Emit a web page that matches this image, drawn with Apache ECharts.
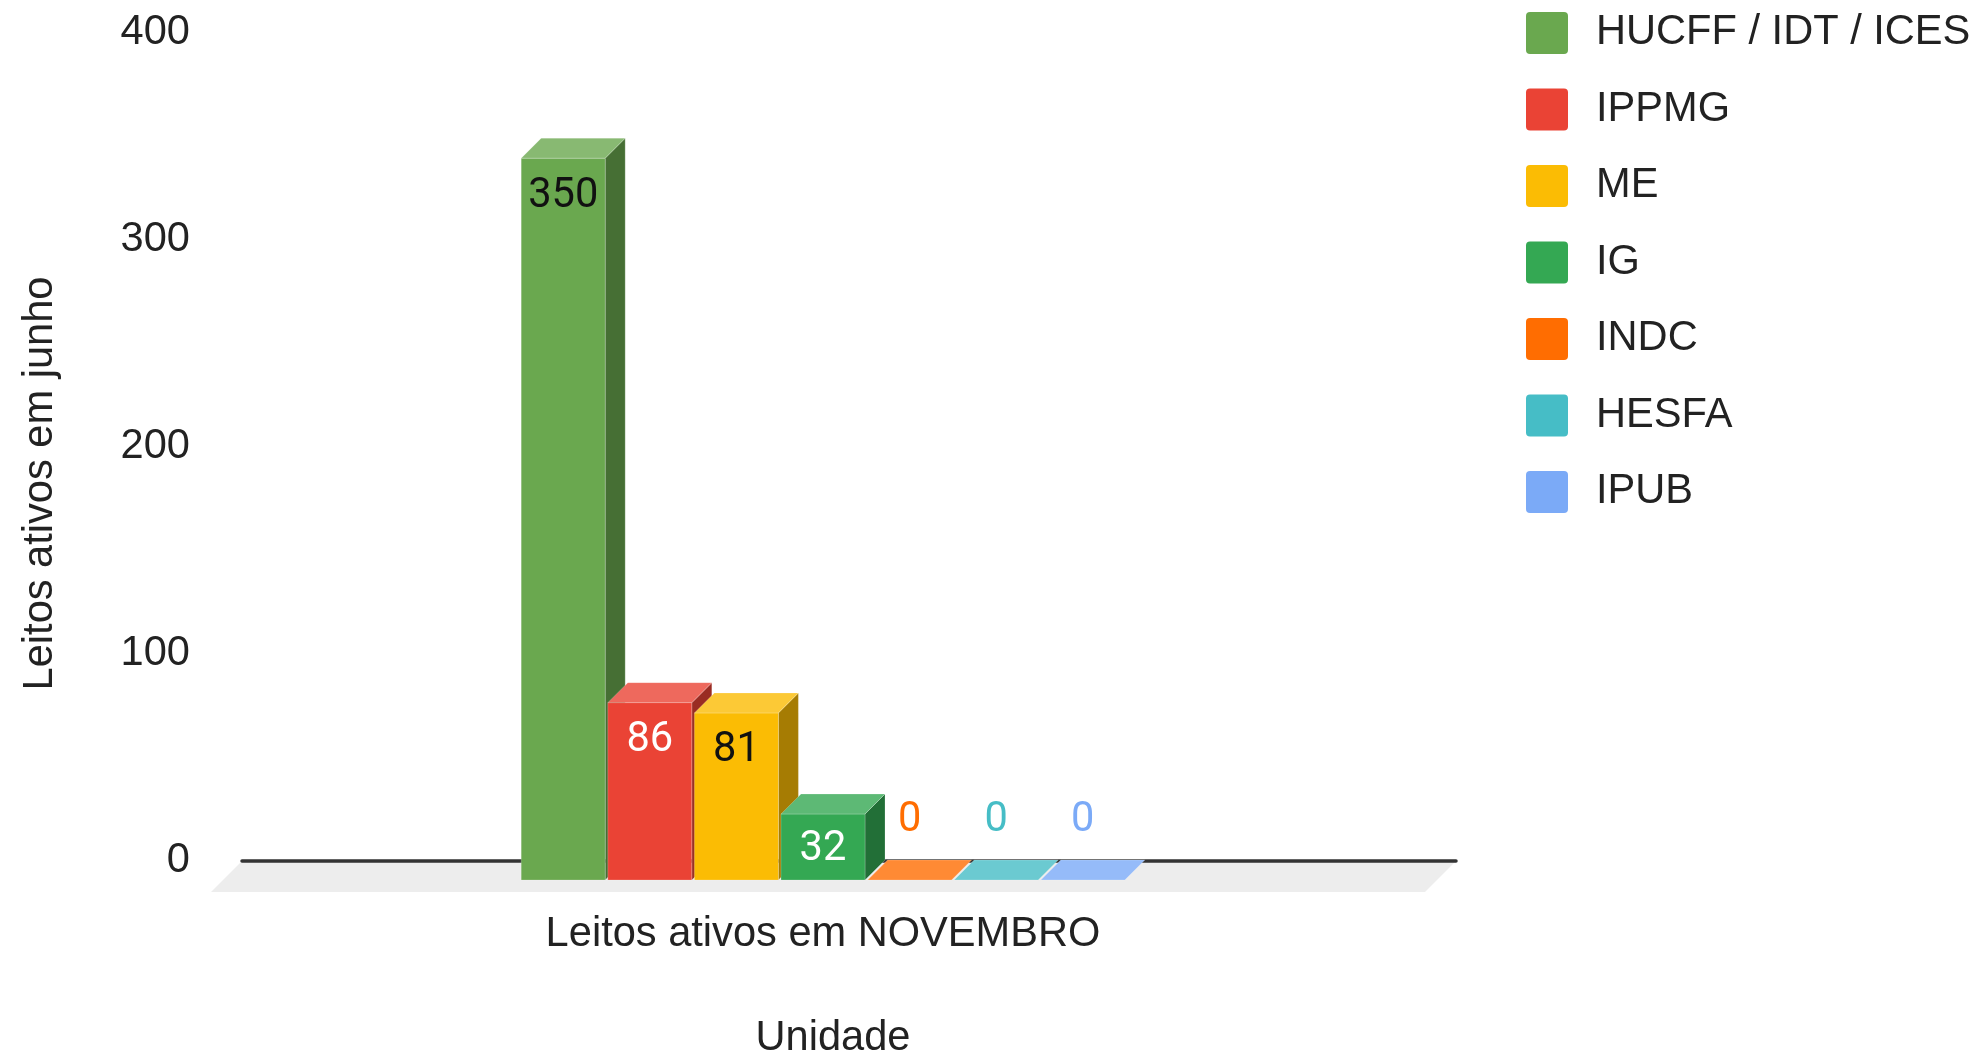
<!DOCTYPE html>
<html>
<head>
<meta charset="utf-8">
<title>Leitos ativos</title>
<style>
html, body { margin: 0; padding: 0; background: #fff; }
#main { width: 1978px; height: 1054px; }
</style>
<script src="https://cdn.jsdelivr.net/npm/echarts@6/dist/echarts.min.js"></script>
</head>
<body>
<div id="main"></div>
<script>
var categories = ['Leitos ativos em NOVEMBRO'];
var unidades = ['HUCFF / IDT / ICES', 'IPPMG', 'ME', 'IG', 'INDC', 'HESFA', 'IPUB'];
var leitos = [350, 86, 81, 32, 0, 0, 0];
var cores = ['#6aa84f', '#ea4335', '#fbbc04', '#34a853', '#ff6d01', '#46bdc6', '#7baaf7'];
var coresRotulo = ['#111111', '#ffffff', '#111111', '#ffffff', '#ff6d01', '#46bdc6', '#7baaf7'];

var FONTE = '"Liberation Sans", Arial, sans-serif';
var TAM_FONTE = 41.6;
var COR_TEXTO = '#222222';
var LARGURA = 84; // largura da frente da barra
var PASSO = 86.6; // distancia entre barras
var PROF = 20; // profundidade da barra
var PROF_PISO = 31; // profundidade do piso

// mistura a cor com branco (topo) ou escurece (lateral)
function clarear(hex, t) {
    var n = parseInt(hex.slice(1), 16);
    var c = [n >> 16, (n >> 8) & 255, n & 255].map(function (v) {
        return Math.round(v + (255 - v) * t);
    });
    return 'rgb(' + c.join(',') + ')';
}
function escurecer(hex, t) {
    var n = parseInt(hex.slice(1), 16);
    var c = [n >> 16, (n >> 8) & 255, n & 255].map(function (v) {
        return Math.round(v * t);
    });
    return 'rgb(' + c.join(',') + ')';
}

function poly(pontos, cor) {
    return {
        type: 'polygon',
        shape: { points: pontos },
        style: { fill: cor, stroke: 'rgba(255,255,255,0.35)', lineWidth: 0.6 }
    };
}

function barra3d(i) {
    return function (params, api) {
        var base = api.coord([0, 0]);
        var topo = api.coord([0, api.value(1)]);
        var x0 = base[0] + (i - 3) * PASSO - LARGURA / 2;
        var x1 = x0 + LARGURA;
        var yb = base[1];
        var yt = topo[1];
        var h = yb - yt;
        var filhos = [];
        if (h > 0) {
            filhos.push(poly([[x1, yt], [x1 + PROF, yt - PROF], [x1 + PROF, yb - PROF], [x1, yb]], escurecer(cores[i], 0.66)));
            filhos.push(poly([[x0, yt], [x1, yt], [x1, yb], [x0, yb]], cores[i]));
        }
        filhos.push(poly([[x0, yt], [x1, yt], [x1 + PROF, yt - PROF], [x0 + PROF, yt - PROF]], clarear(cores[i], 0.2)));
        // rotulo: dentro da barra, ou acima quando o valor e zero
        var yLabel = h > 0 ? yt + Math.min(35, h / 2) + 3 : yt - 59;
        filhos.push({
            type: 'text',
            z2: 10,
            style: {
                text: String(api.value(1)),
                x: (x0 + x1) / 2,
                y: yLabel,
                fill: coresRotulo[i],
                font: TAM_FONTE + 'px Roboto, sans-serif',
                align: 'center',
                verticalAlign: 'middle'
            }
        });
        return { type: 'group', children: filhos };
    };
}

function piso(params) {
    var g = params.coordSys;
    var y = g.y + g.height;
    return {
        type: 'polygon',
        shape: {
            points: [
                [g.x, y],
                [g.x + g.width, y],
                [g.x + g.width - PROF_PISO, y + PROF_PISO],
                [g.x - PROF_PISO, y + PROF_PISO]
            ]
        },
        style: { fill: '#ededed' }
    };
}

var series = [{
    name: 'piso',
    type: 'custom',
    xAxisIndex: 0,
    yAxisIndex: 0,
    silent: true,
    z: 0,
    renderItem: piso,
    data: [[0, 0]]
}];
unidades.forEach(function (nome, i) {
    series.push({
        name: nome,
        type: 'custom',
        xAxisIndex: 1,
        yAxisIndex: 1,
        z: 3,
        itemStyle: { color: cores[i] },
        encode: { x: 0, y: 1 },
        renderItem: barra3d(i),
        data: [[0, leitos[i]]]
    });
});

var myChart = echarts.init(document.getElementById('main'));
var option = {
    animation: false,
    backgroundColor: '#ffffff',
    tooltip: { show: false },
    legend: {
        orient: 'vertical',
        left: 1526,
        top: 12,
        padding: 0,
        data: unidades,
        selectedMode: false,
        itemWidth: 42,
        itemHeight: 42,
        itemGap: 34.5,
        icon: 'path://M4 0H38A4 4 0 0 1 42 4V38A4 4 0 0 1 38 42H4A4 4 0 0 1 0 38V4A4 4 0 0 1 4 0Z',
        textStyle: {
            fontFamily: FONTE,
            fontSize: TAM_FONTE,
            color: COR_TEXTO,
            padding: [4, 0, 0, 23]
        }
    },
    grid: [
        // plano do fundo: escala de valores e linha do zero
        { left: 242, width: 1214, top: 33, height: 828, outerBoundsMode: 'none' },
        // plano da frente: barras
        { left: 216, width: 1214, top: 55, height: 825, outerBoundsMode: 'none' }
    ],
    xAxis: [
        {
            gridIndex: 0,
            type: 'category',
            data: categories,
            z: 1,
            axisLine: { show: true, lineStyle: { color: '#333333', width: 3.5 } },
            axisTick: { show: false },
            axisLabel: { show: false }
        },
        {
            gridIndex: 1,
            type: 'category',
            data: categories,
            axisLine: { show: false },
            axisTick: { show: false },
            axisLabel: {
                margin: 34,
                fontFamily: FONTE,
                fontSize: TAM_FONTE,
                color: COR_TEXTO
            },
            name: 'Unidade',
            nameLocation: 'middle',
            nameGap: 138,
            nameTextStyle: {
                fontFamily: FONTE,
                fontSize: TAM_FONTE,
                color: COR_TEXTO,
                padding: [0, 0, 0, 20]
            }
        }
    ],
    yAxis: [
        {
            gridIndex: 0,
            type: 'value',
            min: 0,
            max: 400,
            interval: 100,
            axisLine: { show: false },
            axisTick: { show: false },
            splitLine: { show: false },
            axisLabel: {
                margin: 52,
                fontFamily: FONTE,
                fontSize: TAM_FONTE,
                color: COR_TEXTO
            }
        },
        {
            gridIndex: 1,
            type: 'value',
            min: 0,
            max: 400,
            interval: 100,
            axisLine: { show: false },
            axisTick: { show: false },
            splitLine: { show: false },
            axisLabel: { show: false },
            name: 'Leitos ativos em junho',
            nameLocation: 'middle',
            nameGap: 154,
            nameRotate: 90,
            nameTextStyle: {
                fontFamily: FONTE,
                fontSize: TAM_FONTE,
                color: COR_TEXTO,
                padding: [0, 32, 0, 0]
            }
        }
    ],
    series: series
};
myChart.setOption(option, true);
</script>
</body>
</html>
